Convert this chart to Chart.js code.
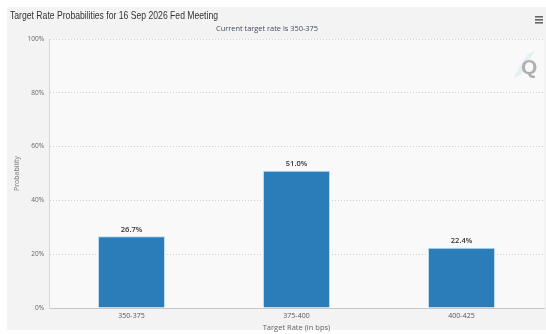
<!DOCTYPE html>
<html><head><meta charset="utf-8">
<script src="https://cdn.jsdelivr.net/npm/chart.js@4.4.0/dist/chart.umd.min.js"></script>
<style>html,body{margin:0;padding:0;background:#fff;}#wrap{width:546px;height:334px;position:relative;}</style>
</head><body><div id="wrap"><canvas id="c" width="546" height="334"></canvas></div>
<script>
const categories = ["350-375", "375-400", "400-425"];
const probabilities = [26.7, 51.0, 22.4];
const yTicks = [0, 20, 40, 60, 80, 100];
const titleText = "Target Rate Probabilities for 16 Sep 2026 Fed Meeting";
const subtitleText = "Current target rate is 350-375";

const deco = {
  id: 'deco',
  beforeDraw(chart){
    const ctx = chart.ctx, a = chart.chartArea;
    ctx.save();
    ctx.fillStyle = '#f3f3f3';
    ctx.fillRect(7, 7, 539, 323);
    ctx.fillStyle = '#f9f9f9';
    ctx.fillRect(a.left, a.top, a.right - a.left, a.bottom - a.top);
    // title
    ctx.fillStyle = '#333';
    ctx.textBaseline = 'middle';
    ctx.textAlign = 'left';
    ctx.font = '11px "Liberation Sans Narrow", "Liberation Sans", sans-serif';
    let w = ctx.measureText(titleText).width;
    ctx.save();
    ctx.translate(10, 16);
    ctx.scale(208 / w, 1);
    ctx.fillText(titleText, 0, 0);
    ctx.restore();
    // subtitle
    ctx.fillStyle = '#3d4a5c';
    ctx.font = '8px "Open Sans", sans-serif';
    w = ctx.measureText(subtitleText).width;
    ctx.save();
    ctx.translate(267, 29);
    ctx.scale(102 / w, 1);
    ctx.textAlign = 'center';
    ctx.fillText(subtitleText, 0, 0);
    ctx.restore();
    // hamburger
    ctx.fillStyle = '#666';
    for (let i = 0; i < 3; i++) ctx.fillRect(535, 16 + i * 3, 8, 1.6);
    // watermark
    ctx.strokeStyle = 'rgba(140,210,225,0.35)';
    ctx.lineWidth = 0.8;
    for (let i = 0; i < 4; i++) {
      ctx.beginPath();
      ctx.moveTo(514 + i * 2, 78 - i);
      ctx.lineTo(528 + i * 2, 54 - i);
      ctx.stroke();
    }
    ctx.fillStyle = '#b0b0b0';
    ctx.font = 'bold 21px "Liberation Sans", sans-serif';
    ctx.textAlign = 'left';
    ctx.fillText('Q', 521, 68);
    ctx.restore();
  },
  afterDatasetsDraw(chart){
    const ctx = chart.ctx;
    const meta = chart.getDatasetMeta(0);
    ctx.save();
    ctx.fillStyle = '#333';
    ctx.font = '600 7.5px "Open Sans", sans-serif';
    ctx.textAlign = 'center';
    ctx.textBaseline = 'bottom';
    meta.data.forEach((bar, i) => {
      ctx.fillText(probabilities[i].toFixed(1) + '%', bar.x, bar.y - 3);
    });
    ctx.restore();
  }
};

new Chart(document.getElementById('c'), {
  type: 'bar',
  data: {
    labels: categories,
    datasets: [{
      data: probabilities,
      backgroundColor: '#2a7db8',
      borderColor: '#b9dcef',
      borderWidth: 1,
      barPercentage: 0.406,
      categoryPercentage: 1.0
    }]
  },
  options: {
    responsive: false,
    animation: false,
    devicePixelRatio: 1,
    layout: { padding: { top: 39, right: 2, left: 0, bottom: 0 } },
    plugins: { legend: { display: false }, tooltip: { enabled: false }, title: { display: false } },
    scales: {
      x: {
        grid: { display: false, drawTicks: false },
        border: { display: true, color: '#c8c8c8', width: 1 },
        ticks: { color: '#555', font: { size: 7, family: '"Open Sans", sans-serif' }, padding: 4, maxRotation: 0 },
        title: { display: true, text: 'Target Rate (in bps)', color: '#666', font: { size: 7.5, family: '"Open Sans", sans-serif' }, padding: { top: 0, bottom: 2 } },
        afterFit(s){ s.height = 26; }
      },
      y: {
        min: 0, max: 100,
        afterBuildTicks(s){ s.ticks = yTicks.map(v => ({ value: v })); },
        grid: { color: '#d0d0d0', lineWidth: 1, drawTicks: false },
        border: { display: true, color: '#d8d8d8', width: 1, dash: [1, 2] },
        ticks: { color: '#666', font: { size: 6.5, family: '"Open Sans", sans-serif' }, padding: 5, callback: v => v + '%' },
        title: { display: true, text: 'Probability', color: '#777', font: { size: 7, family: '"Open Sans", sans-serif' }, padding: { top: 13, bottom: 0 } },
        afterFit(s){ s.width = 49; }
      }
    }
  },
  plugins: [deco]
});
</script></body></html>
